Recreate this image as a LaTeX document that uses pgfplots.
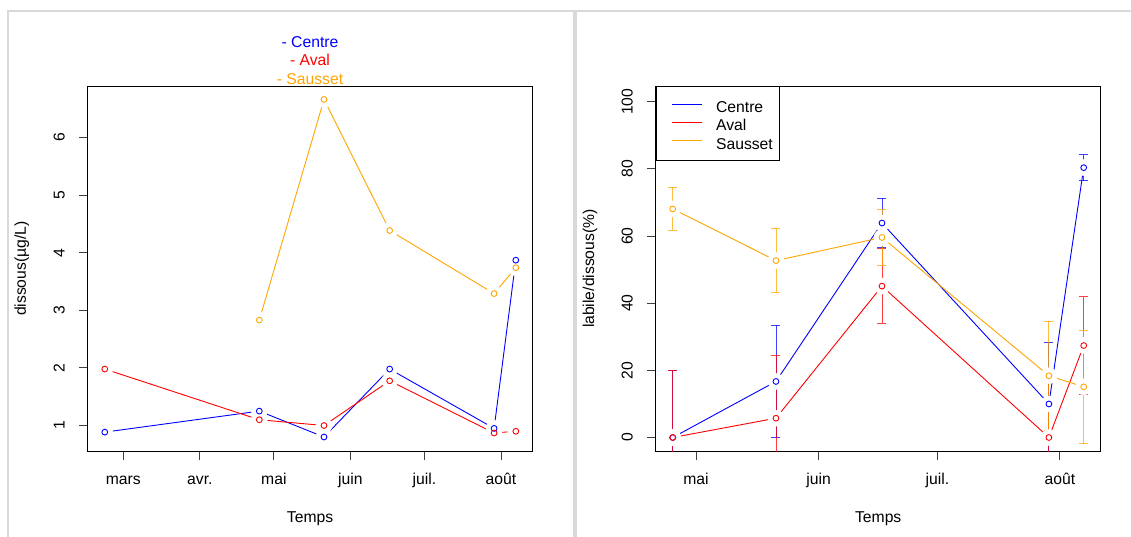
\documentclass[border=0pt]{standalone}
\usepackage{fontspec}
\setmainfont{Liberation Sans}
\usepackage{pgfplots}
\usepackage{pgfplotstable}
\pgfplotsset{compat=1.18}
\definecolor{cblue}{RGB}{0,0,255}
\definecolor{cred}{RGB}{255,0,0}
\definecolor{corange}{RGB}{255,165,0}
\definecolor{framegray}{RGB}{217,217,217}
\newcommand{\fs}{\fontsize{15.7}{18.8}\selectfont}

% left panel: dissous (ug/L), x = days since 1 March
\pgfplotstableread{
x y
-7.5 0.885
55.1 1.25
81.3 0.80
107.9 1.98
150.2 0.95
159.0 3.87
}\Lcentre
\pgfplotstableread{
x y
-7.5 1.98
55.1 1.10
81.3 1.00
107.9 1.776
150.2 0.87
159.0 0.90
}\Laval
\pgfplotstableread{
x y
55.1 2.83
81.3 6.66
107.9 4.385
150.2 3.29
159.0 3.74
}\Lsausset

% right panel: labile/dissous (%), with error
\pgfplotstableread{
x y e
55.1 0 20
81.2 16.7 16.7
108.0 63.9 7.4
150.2 10.0 18.3
159.0 80.4 3.9
}\Rcentre
\pgfplotstableread{
x y e
55.1 0 20
81.2 5.75 18.8
108.0 45.1 11.1
150.2 0 20
159.0 27.4 14.5
}\Raval
\pgfplotstableread{
x y e
55.1 68.1 6.4
81.2 52.7 9.5
108.0 59.6 8.2
150.2 18.4 16.3
159.0 15.1 16.9
}\Rsausset

\pgfplotsset{
  rpanel/.style={
    scale only axis, anchor=south west,
    axis line style={line width=1pt},
    xtick pos=lower, ytick pos=left,
    tick align=outside, major tick length=8.5pt,
    tick style={line width=1pt, black!75},
    ticklabel style={font=\fs},
    /pgf/number format/assume math mode=true,
    xticklabel style={anchor=base, yshift=-25pt},
    yticklabel style={xshift=-14.5pt, rotate=90, anchor=base},
    every axis x label/.style={at={([yshift=-71.5pt]axis description cs:0.5,0)}, anchor=base, font=\fs},
    every axis y label/.style={at={([xshift=-61.5pt]axis description cs:0,0.5)}, rotate=90, anchor=base, font=\fs},
  },
  halo/.style={forget plot, only marks, white, mark=*, mark size=8pt, mark options={draw=white, fill=white}},
  pts/.style={forget plot, only marks, mark=o, mark size=2.9pt, mark options={line width=0.9pt}},
  ln/.style={forget plot, line width=0.9pt, mark=none},
  eb/.style={forget plot, draw=none, mark=none,
    error bars/.cd, y dir=both, y explicit,
    error bar style={draw=#1, opacity=0.75, line width=0.9pt},
    error mark options={draw=#1, opacity=0.75, line width=0.9pt, mark size=4.5pt, rotate=90}},
}

\begin{document}
\begin{tikzpicture}
\useasboundingbox (0,0) rectangle (1131pt,537pt);
\fill[framegray] (7pt,0pt) rectangle (9pt,527pt);
\fill[framegray] (7pt,525pt) rectangle (1131pt,527pt);
\fill[framegray] (573pt,0pt) rectangle (577pt,527pt);

\begin{axis}[rpanel, at={(87.5pt,85.8pt)}, width=445.1pt, height=365.1pt,
  xmin=-14.5, xmax=165.8, ymin=0.554, ymax=6.892,
  xtick={0,31,61,92,122,153}, xticklabels={mars,avr.,mai,juin,juil.,août},
  ytick={1,2,3,4,5,6},
  xlabel={Temps}, ylabel={dissous(µg/L)}]
\addplot[ln, cblue] table[x=x,y=y] {\Lcentre};
\addplot[ln, cred] table[x=x,y=y] {\Laval};
\addplot[ln, corange] table[x=x,y=y] {\Lsausset};
\addplot[halo] table[x=x,y=y] {\Lcentre};
\addplot[halo] table[x=x,y=y] {\Laval};
\addplot[halo] table[x=x,y=y] {\Lsausset};
\addplot[pts, cblue] table[x=x,y=y] {\Lcentre};
\addplot[pts, cred] table[x=x,y=y] {\Laval};
\addplot[pts, corange] table[x=x,y=y] {\Lsausset};
\end{axis}
\node[anchor=base, text=cblue, font=\fs, inner sep=0pt] at (310pt,489.1pt) {- Centre};
\node[anchor=base, text=cred, font=\fs, inner sep=0pt] at (310pt,471.2pt) {- Aval};
\node[anchor=base, text=corange, font=\fs, inner sep=0pt] at (310pt,452.4pt) {- Sausset};

\begin{axis}[rpanel, at={(655.7pt,85.8pt)}, width=445pt, height=365.1pt,
  xmin=50.8, xmax=163.3, ymin=-4.08, ymax=104.7,
  xtick={61,92,122,153}, xticklabels={mai,juin,juil.,août},
  ytick={0,20,40,60,80,100},
  xlabel={Temps}, ylabel={labile/dissous(\%)},
  legend cell align=left,
  legend style={at={(axis description cs:0,1)}, anchor=north west, line width=1pt,
    fill=white, inner xsep=6.7pt, inner ysep=9.35pt, row sep=0pt, column sep=14pt, font=\fs,
    nodes={inner sep=0pt, text height=16.65pt, text depth=1.65pt}},
  legend image code/.code={\draw[#1] (0pt,1pt) (8.3pt,1pt) -- (38.3pt,1pt);}]
\addlegendimage{draw=cblue, line width=0.9pt}
\addlegendentry{Centre}
\addlegendimage{draw=cred, line width=0.9pt}
\addlegendentry{Aval}
\addlegendimage{draw=corange, line width=0.9pt}
\addlegendentry{Sausset}
\addplot[ln, cblue] table[x=x,y=y] {\Rcentre};
\addplot[ln, cred] table[x=x,y=y] {\Raval};
\addplot[ln, corange] table[x=x,y=y] {\Rsausset};
\addplot[halo] table[x=x,y=y] {\Rcentre};
\addplot[halo] table[x=x,y=y] {\Raval};
\addplot[halo] table[x=x,y=y] {\Rsausset};
\addplot[eb=cblue] table[x=x,y=y,y error=e] {\Rcentre};
\addplot[eb=cred] table[x=x,y=y,y error=e] {\Raval};
\addplot[eb=corange] table[x=x,y=y,y error=e] {\Rsausset};
\addplot[pts, cblue] table[x=x,y=y] {\Rcentre};
\addplot[pts, cred] table[x=x,y=y] {\Raval};
\addplot[pts, corange] table[x=x,y=y] {\Rsausset};
\end{axis}
\end{tikzpicture}
\end{document}
